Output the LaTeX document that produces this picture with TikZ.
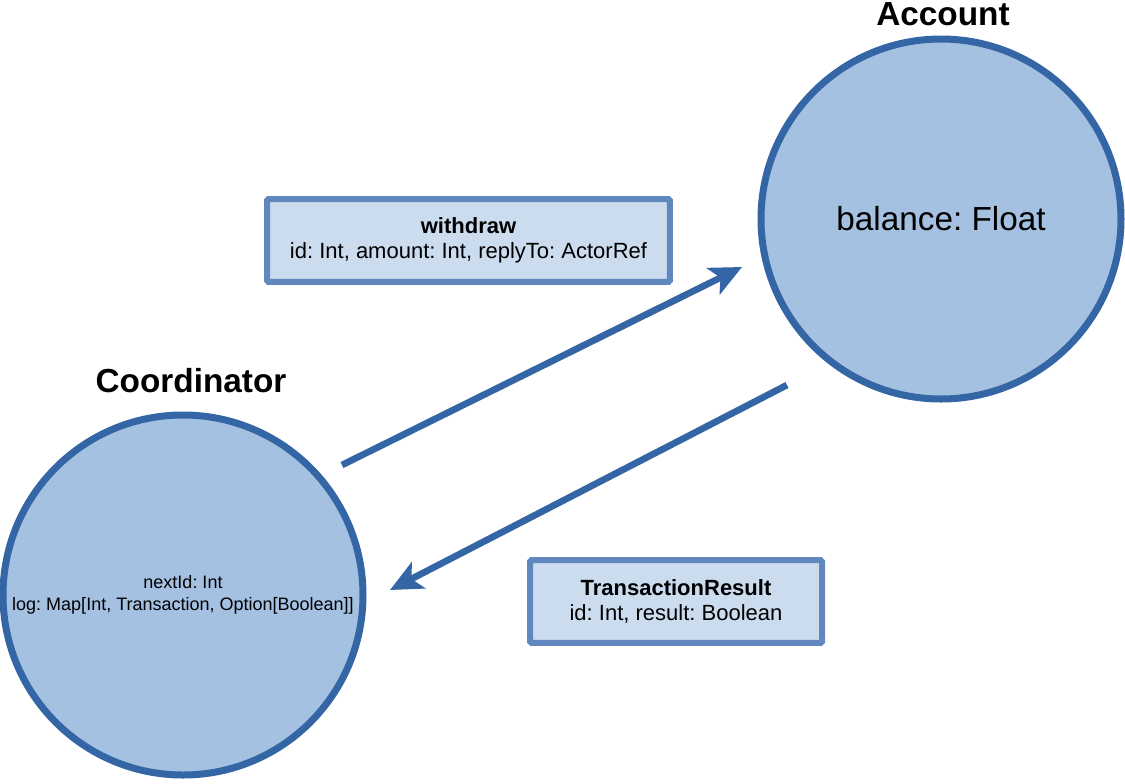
\documentclass[tikz,border=0pt]{standalone}
\usepackage{fontspec}
\setmainfont{Liberation Sans}
\frenchspacing
\usetikzlibrary{arrows.meta}
\definecolor{actorfill}{RGB}{164,193,226}
\definecolor{actorline}{RGB}{52,101,164}
\definecolor{msgfill}{RGB}{203,220,239}
\definecolor{msgline}{RGB}{96,135,190}
\tikzset{
	actor/.style={circle,draw=actorline,fill=actorfill,line width=5.25pt,minimum size=270pt,inner sep=0pt,align=center},
	msgbox/.style={rectangle,rounded corners=1pt,draw=msgline,fill=msgfill,line width=4.5pt,minimum height=62pt,inner sep=0pt,align=center,font=\fontsize{16.5}{18.75}\selectfont},
	msgarrow/.style={draw=actorline,line width=5pt,-{Stealth[length=24pt,width=22pt,inset=6pt]}},
	title/.style={font=\fontsize{25}{30}\selectfont\bfseries}
}
\begin{document}
	\begin{tikzpicture}[x=0.75pt,y=-0.75pt]
		\useasboundingbox (0,0) rectangle (1125,783);
		\node[actor,font=\fontsize{13.5}{16.5}\selectfont] (coord) at (183,595) {nextId: Int\\log: Map[Int, Transaction, Option[Boolean]]};
		\node[actor,font=\fontsize{25}{30}\selectfont] (account) at (941,219) {balance: Float};
		\node[title] (coordtitle) at (191,381) {Coordinator};
		\node[title] (accounttitle) at (943,14) {Account};
		\node[msgbox,minimum width=302pt] (withdraw) at (468.5,240.5) {\textbf{withdraw}\\id: Int, amount: Int, replyTo: ActorRef};
		\node[msgbox,minimum width=219pt] (result) at (676,601.5) {\textbf{TransactionResult}\\id: Int, result: Boolean};
		\coordinate (W1) at (342,465);
		\coordinate (W2) at (742,267);
		\coordinate (R1) at (787,385);
		\coordinate (R2) at (390,590);
		\draw[msgarrow] (W1) to (W2);
		\draw[msgarrow] (R1) to (R2);
	\end{tikzpicture}
\end{document}
